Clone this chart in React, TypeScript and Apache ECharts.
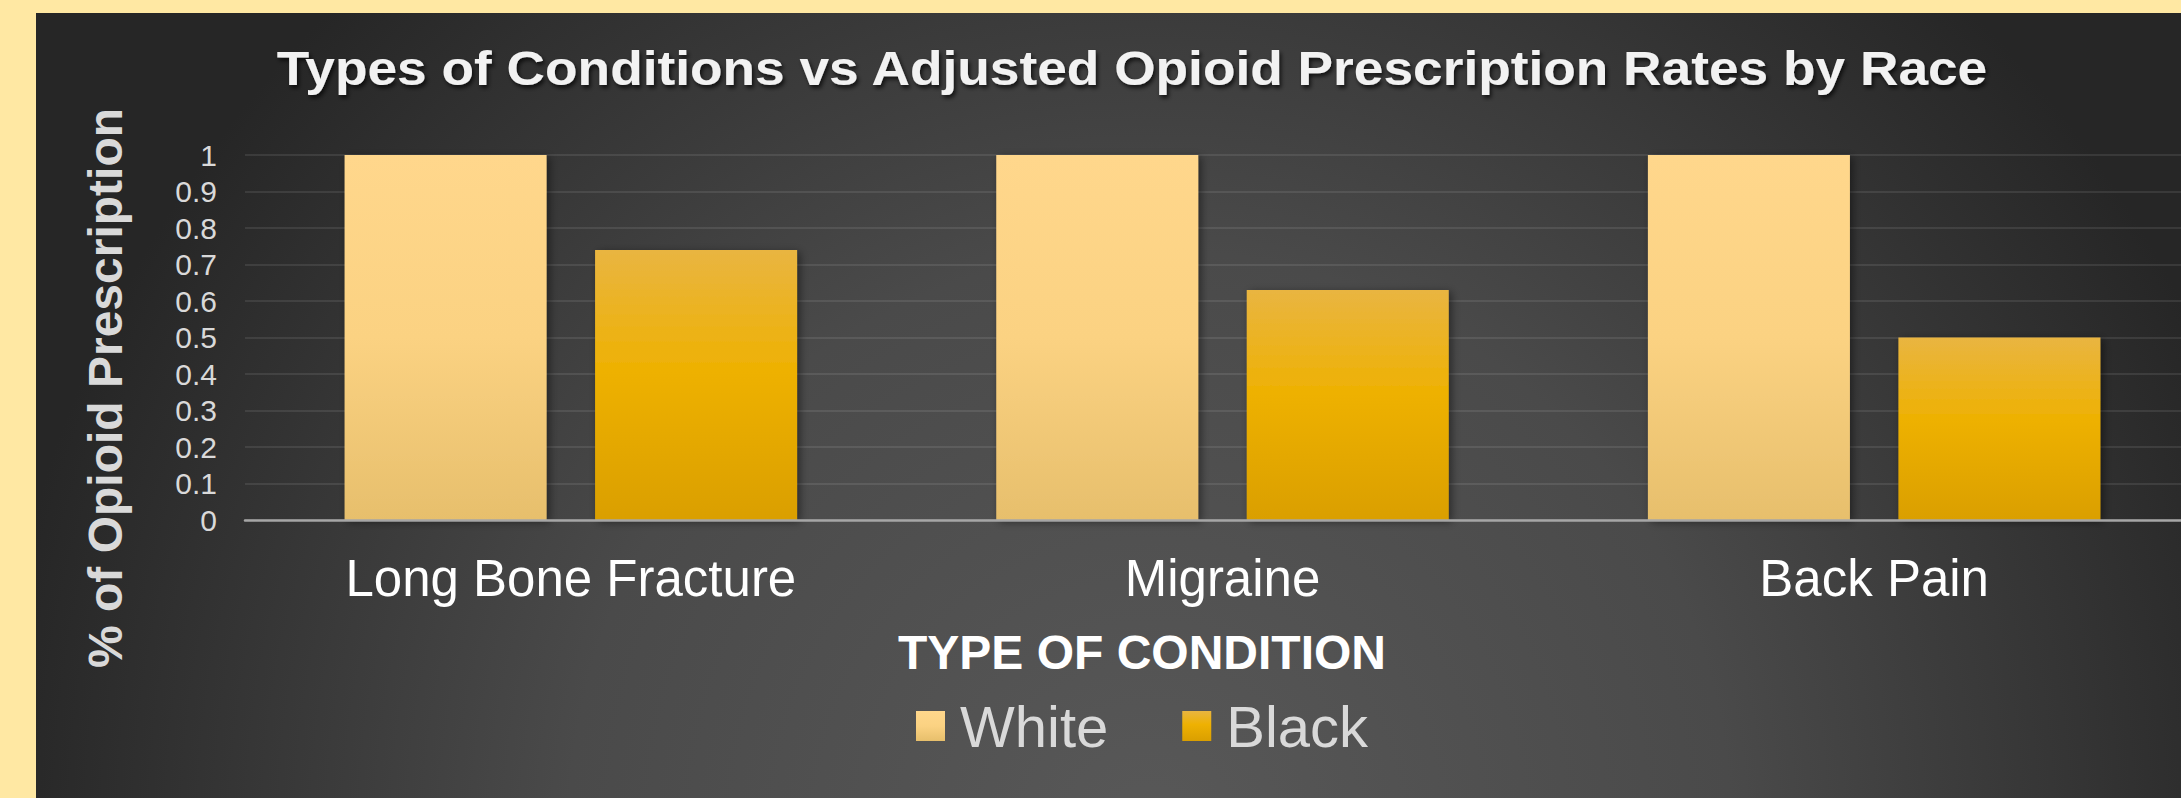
import React, { useEffect, useRef } from "react";
import * as echarts from "echarts";

const categories = ["Long Bone Fracture", "Migraine", "Back Pain"];
const whiteValues = [1, 1, 1];
const blackValues = [0.74, 0.63, 0.5];
const seriesNames = ["White", "Black"];
const yMin = 0;
const yMax = 1;
const yInterval = 0.1;
const titleText = "Types of Conditions vs Adjusted Opioid Prescription Rates by Race";
const yAxisTitle = "% of Opioid Prescription";
const xAxisTitle = "TYPE OF CONDITION";

const FONT = "'Liberation Sans', Arial, Helvetica, sans-serif";

export default function App() {
  const ref = useRef<HTMLDivElement>(null);

  useEffect(() => {
    if (!ref.current) return;
    const chart = echarts.init(ref.current, undefined, { renderer: "svg" });

    const whiteGrad = new echarts.graphic.LinearGradient(0, 0, 0, 1, [
      { offset: 0, color: "#FFD78C" },
      { offset: 0.5, color: "#FBD282" },
      { offset: 1, color: "#E7BF6C" },
    ]);
    const blackGrad = new echarts.graphic.LinearGradient(0, 0, 0, 1, [
      { offset: 0, color: "#E9B541" },
      { offset: 0.45, color: "#EEB102" },
      { offset: 1, color: "#DA9F00" },
    ]);

    const barShadow = {
      shadowBlur: 8,
      shadowColor: "rgba(0,0,0,0.45)",
      shadowOffsetX: 3,
      shadowOffsetY: 2,
    };

    chart.setOption({
      animation: false,
      backgroundColor: "#FFE8A3",
      graphic: [
        {
          type: "rect",
          z: -10,
          silent: true,
          shape: { x: 36, y: 13, width: 2174, height: 785 },
          style: {
            fill: new echarts.graphic.RadialGradient(1150, 830, 1160, [
              { offset: 0, color: "#585858" },
              { offset: 0.5, color: "#4a4a4a" },
              { offset: 1, color: "#262626" },
            ], true),
          },
        },
        {
          type: "text",
          x: 1132,
          y: 68,
          scaleX: 1.11,
          z: 10,
          style: {
            text: titleText,
            fill: "#F2F2F2",
            font: `bold 48px ${FONT}`,
            align: "center",
            verticalAlign: "middle",
            textShadowColor: "rgba(0,0,0,0.7)",
            textShadowBlur: 4,
            textShadowOffsetX: 2,
            textShadowOffsetY: 3,
          },
        },
        {
          type: "text",
          x: 105,
          y: 388,
          rotation: Math.PI / 2,
          z: 10,
          style: {
            text: yAxisTitle,
            fill: "#D9D9D9",
            font: `bold 48px ${FONT}`,
            align: "center",
            verticalAlign: "middle",
          },
        },
        {
          type: "text",
          x: 1142,
          y: 652,
          z: 10,
          style: {
            text: xAxisTitle,
            fill: "#FFFFFF",
            font: `bold 48px ${FONT}`,
            align: "center",
            verticalAlign: "middle",
          },
        },
      ],
      legend: {
        data: seriesNames,
        left: 916,
        top: 697,
        padding: 0,
        icon: "rect",
        itemWidth: 29,
        itemHeight: 30,
        itemGap: 74,
        itemStyle: { shadowBlur: 0, shadowOffsetX: 0, shadowOffsetY: 0 },
        textStyle: {
          color: "#D9D9D9",
          fontSize: 58,
          fontFamily: FONT,
          padding: [0, 0, 0, 10],
        },
      },
      grid: {
        left: 245,
        right: 10,
        top: 155,
        bottom: 278,
        containLabel: false,
      },
      xAxis: {
        type: "category",
        data: categories,
        axisTick: { show: false },
        axisLine: { show: true, lineStyle: { color: "#A6A6A6", width: 2.5 } },
        axisLabel: {
          color: "#FFFFFF",
          fontSize: 51,
          fontFamily: FONT,
          margin: 33,
        },
        z: 5,
      },
      yAxis: {
        type: "value",
        min: yMin,
        max: yMax,
        interval: yInterval,
        axisLine: { show: false },
        axisTick: { show: false },
        splitLine: { lineStyle: { color: "rgba(255,255,255,0.09)", width: 2 } },
        axisLabel: {
          color: "#D9D9D9",
          fontSize: 30,
          fontFamily: FONT,
          margin: 28,
          formatter: (v: number) => String(Math.round(v * 10) / 10),
        },
      },
      series: [
        {
          name: seriesNames[0],
          type: "bar",
          data: whiteValues,
          barWidth: 202,
          barGap: "24%",
          itemStyle: { color: whiteGrad, ...barShadow },
          z: 2,
        },
        {
          name: seriesNames[1],
          type: "bar",
          data: blackValues,
          barWidth: 202,
          barGap: "24%",
          itemStyle: { color: blackGrad, ...barShadow },
          z: 2,
        },
      ],
    });

    return () => chart.dispose();
  }, []);

  return (
    <div
      style={{
        position: "fixed",
        left: 0,
        top: 0,
        width: 2181,
        height: 798,
        overflow: "hidden",
      }}
    >
      <div ref={ref} style={{ width: 2210, height: 798 }} />
    </div>
  );
}
